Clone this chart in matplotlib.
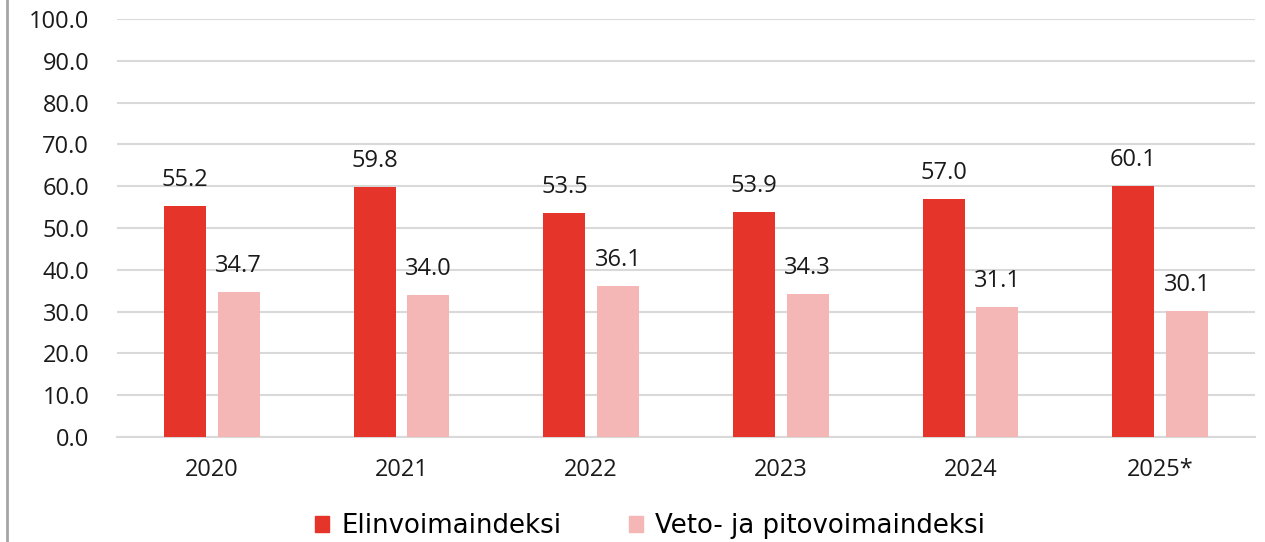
import numpy as np
import matplotlib
matplotlib.use("Agg")
import matplotlib.pyplot as plt
from matplotlib.lines import Line2D

years = ["2020", "2021", "2022", "2023", "2024", "2025*"]
elinvoima = [55.2, 59.8, 53.5, 53.9, 57.0, 60.1]
veto_pito = [34.7, 34.0, 36.1, 34.3, 31.1, 30.1]
series_names = ["Elinvoimaindeksi", "Veto- ja pitovoimaindeksi"]
yticks = np.arange(0, 101, 10)

RED = "#e5352b"
PINK = "#f5b7b5"
GRID = "#d9d9d9"
TXT = "#1a1a1a"
FS = 17

plt.rcParams["font.family"] = ["Open Sans", "DejaVu Sans"]

fig = plt.figure(figsize=(12.65, 5.42), dpi=100)
ax = fig.add_axes([117 / 1265, 1 - 437 / 542, (1255 - 117) / 1265, (437 - 19) / 542])

x = np.arange(len(years))
w = 0.221
off = 0.141
b1 = ax.bar(x - off, elinvoima, width=w, color=RED, zorder=3)
b2 = ax.bar(x + off, veto_pito, width=w, color=PINK, zorder=3)

for bars, vals in [(b1, elinvoima), (b2, veto_pito)]:
    for rect, v in zip(bars, vals):
        ax.annotate(f"{v:.1f}", (rect.get_x() + rect.get_width() / 2, v),
                    xytext=(0, 10), textcoords="offset points",
                    ha="center", va="bottom", fontsize=FS, color=TXT)

ax.set_xlim(-0.5, len(years) - 0.5)
ax.set_ylim(0, 100)
ax.set_yticks(yticks)
ax.set_yticklabels([f"{t:.1f}" for t in yticks], fontsize=FS, color=TXT)
ax.set_xticks(x)
ax.set_xticklabels(years, fontsize=FS, color=TXT)
ax.tick_params(axis="both", length=0)
ax.tick_params(axis="y", pad=20)
ax.tick_params(axis="x", pad=15)
ax.yaxis.grid(True, color=GRID, linewidth=1.5, zorder=0)
ax.set_axisbelow(True)
for s in ["left", "right", "top"]:
    ax.spines[s].set_visible(False)
ax.spines["bottom"].set_color(GRID)
ax.spines["bottom"].set_linewidth(1.5)

# left frame line of the original picture
fig.add_artist(Line2D([7 / 1265, 7 / 1265], [0, 1], color="#a6a6a6", linewidth=2,
                      transform=fig.transFigure))

handles = [plt.Rectangle((0, 0), 1, 1, color=RED), plt.Rectangle((0, 0), 1, 1, color=PINK)]
fig.legend(handles, series_names, loc="center", bbox_to_anchor=(650 / 1265, 1 - 526 / 542),
           ncol=2, frameon=False, handlelength=0.55, handleheight=0.55,
           handletextpad=0.45, columnspacing=2.6, prop={"family": "DejaVu Sans", "size": 18.7})

fig.savefig("out.png", dpi=100)
